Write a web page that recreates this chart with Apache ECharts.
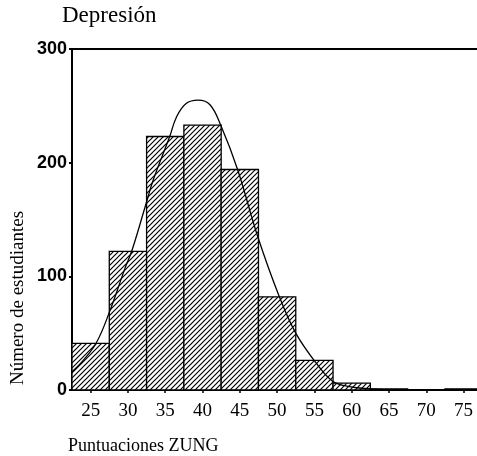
<!DOCTYPE html>
<html>
<head>
<meta charset="utf-8">
<script src="https://cdn.jsdelivr.net/npm/echarts@6/dist/echarts.min.js"></script>
<style>
  html, body { margin: 0; padding: 0; background: #fff; }
  #main { width: 477px; height: 456px; }
</style>
</head>
<body>
<div id="main"></div>
<script>
// bin centres (ZUNG score) and number of students in each bin
const binCenters = [25, 30, 35, 40, 45, 50, 55, 60, 65, 70, 75];
const binCounts = [41, 122, 223, 233, 194, 82, 26, 6, 1, 0, 1];
const binWidth = 5;

// fitted curve
const curveX = [22.5, 24, 25.8, 27.6, 29.6, 30.5, 32.3, 33.4, 35.6, 36.5, 37.8, 39.4, 41, 42.5, 44.7, 47.4, 50.3, 52.5, 55.2, 57.4, 59.7, 62.5, 65, 70, 76.8];
const curveY = [16, 26, 42, 70, 107, 122, 161, 185, 223, 240, 252, 255, 251, 232, 194, 135, 82, 50, 24, 8, 3, 1, 0.3, 0, 0];

const xTicks = [25, 30, 35, 40, 45, 50, 55, 60, 65, 70, 75];

// diagonal hatch for the bars
const hatch = document.createElement("canvas");
hatch.width = 5;
hatch.height = 5;
const hctx = hatch.getContext("2d");
hctx.fillStyle = "#fff";
hctx.fillRect(0, 0, 5, 5);
hctx.strokeStyle = "#000";
hctx.lineWidth = 1.2;
hctx.beginPath();
hctx.moveTo(-1, 6); hctx.lineTo(6, -1);
hctx.moveTo(-1, 1); hctx.lineTo(1, -1);
hctx.moveTo(4, 6); hctx.lineTo(6, 4);
hctx.stroke();

const myChart = echarts.init(document.getElementById("main"));

const serif = "'Liberation Serif', 'Times New Roman', serif";

const options = {
  animation: false,
  backgroundColor: "#fff",
  grid: { left: 72, right: 0, top: 49, bottom: 66 },
  xAxis: [
    {
      type: "value",
      min: 22.5,
      max: 76.8,
      axisLine: { lineStyle: { color: "#000", width: 2 } },
      axisTick: { show: true, length: 3, customValues: xTicks, lineStyle: { color: "#000", width: 1.5 } },
      axisLabel: {
        customValues: xTicks,
        margin: 12,
        color: "#000",
        fontFamily: serif,
        fontSize: 19,
      },
      splitLine: { show: false },
    },
    {
      type: "value",
      position: "top",
      min: 22.5,
      max: 76.8,
      axisLine: { show: true, lineStyle: { color: "#000", width: 2 } },
      axisTick: { show: false },
      axisLabel: { show: false },
      splitLine: { show: false },
    },
  ],
  yAxis: {
    type: "value",
    min: 0,
    max: 300,
    interval: 100,
    axisLine: { show: true, lineStyle: { color: "#000", width: 2 } },
    axisTick: { show: true, length: 3, lineStyle: { color: "#000", width: 2 } },
    axisLabel: {
      margin: 5,
      color: "#000",
      fontFamily: "'Liberation Sans', Arial, sans-serif",
      fontWeight: "bold",
      fontSize: 18,
    },
    splitLine: { show: false },
  },
  graphic: [
    {
      type: "text",
      left: 62,
      top: 4,
      style: { text: "Depresión", font: "23px " + serif, fill: "#000" },
    },
    {
      type: "text",
      left: 68,
      top: 437,
      style: { text: "Puntuaciones ZUNG", font: "18px " + serif, fill: "#000" },
    },
    {
      type: "text",
      x: 18,
      y: 298,
      rotation: Math.PI / 2,
      style: {
        text: "Número de estudiantes",
        font: "19px " + serif,
        fill: "#000",
        align: "center",
        verticalAlign: "middle",
      },
    },
  ],
  series: [
    {
      type: "custom",
      data: binCenters.map((c, i) => [c, binCounts[i]]),
      renderItem: function (params, api) {
        const c = api.value(0);
        const v = api.value(1);
        const p0 = api.coord([c - binWidth / 2, v]);
        const p1 = api.coord([c + binWidth / 2, 0]);
        return {
          type: "rect",
          shape: { x: p0[0], y: p0[1], width: p1[0] - p0[0], height: p1[1] - p0[1] },
          style: {
            fill: { image: hatch, repeat: "repeat" },
            stroke: "#000",
            lineWidth: 1.3,
          },
        };
      },
      z: 2,
    },
    {
      type: "line",
      data: curveX.map((x, i) => [x, curveY[i]]),
      smooth: 0.4,
      symbol: "none",
      lineStyle: { color: "#000", width: 1.3 },
      z: 3,
    },
  ],
};

myChart.setOption(options);
</script>
</body>
</html>
